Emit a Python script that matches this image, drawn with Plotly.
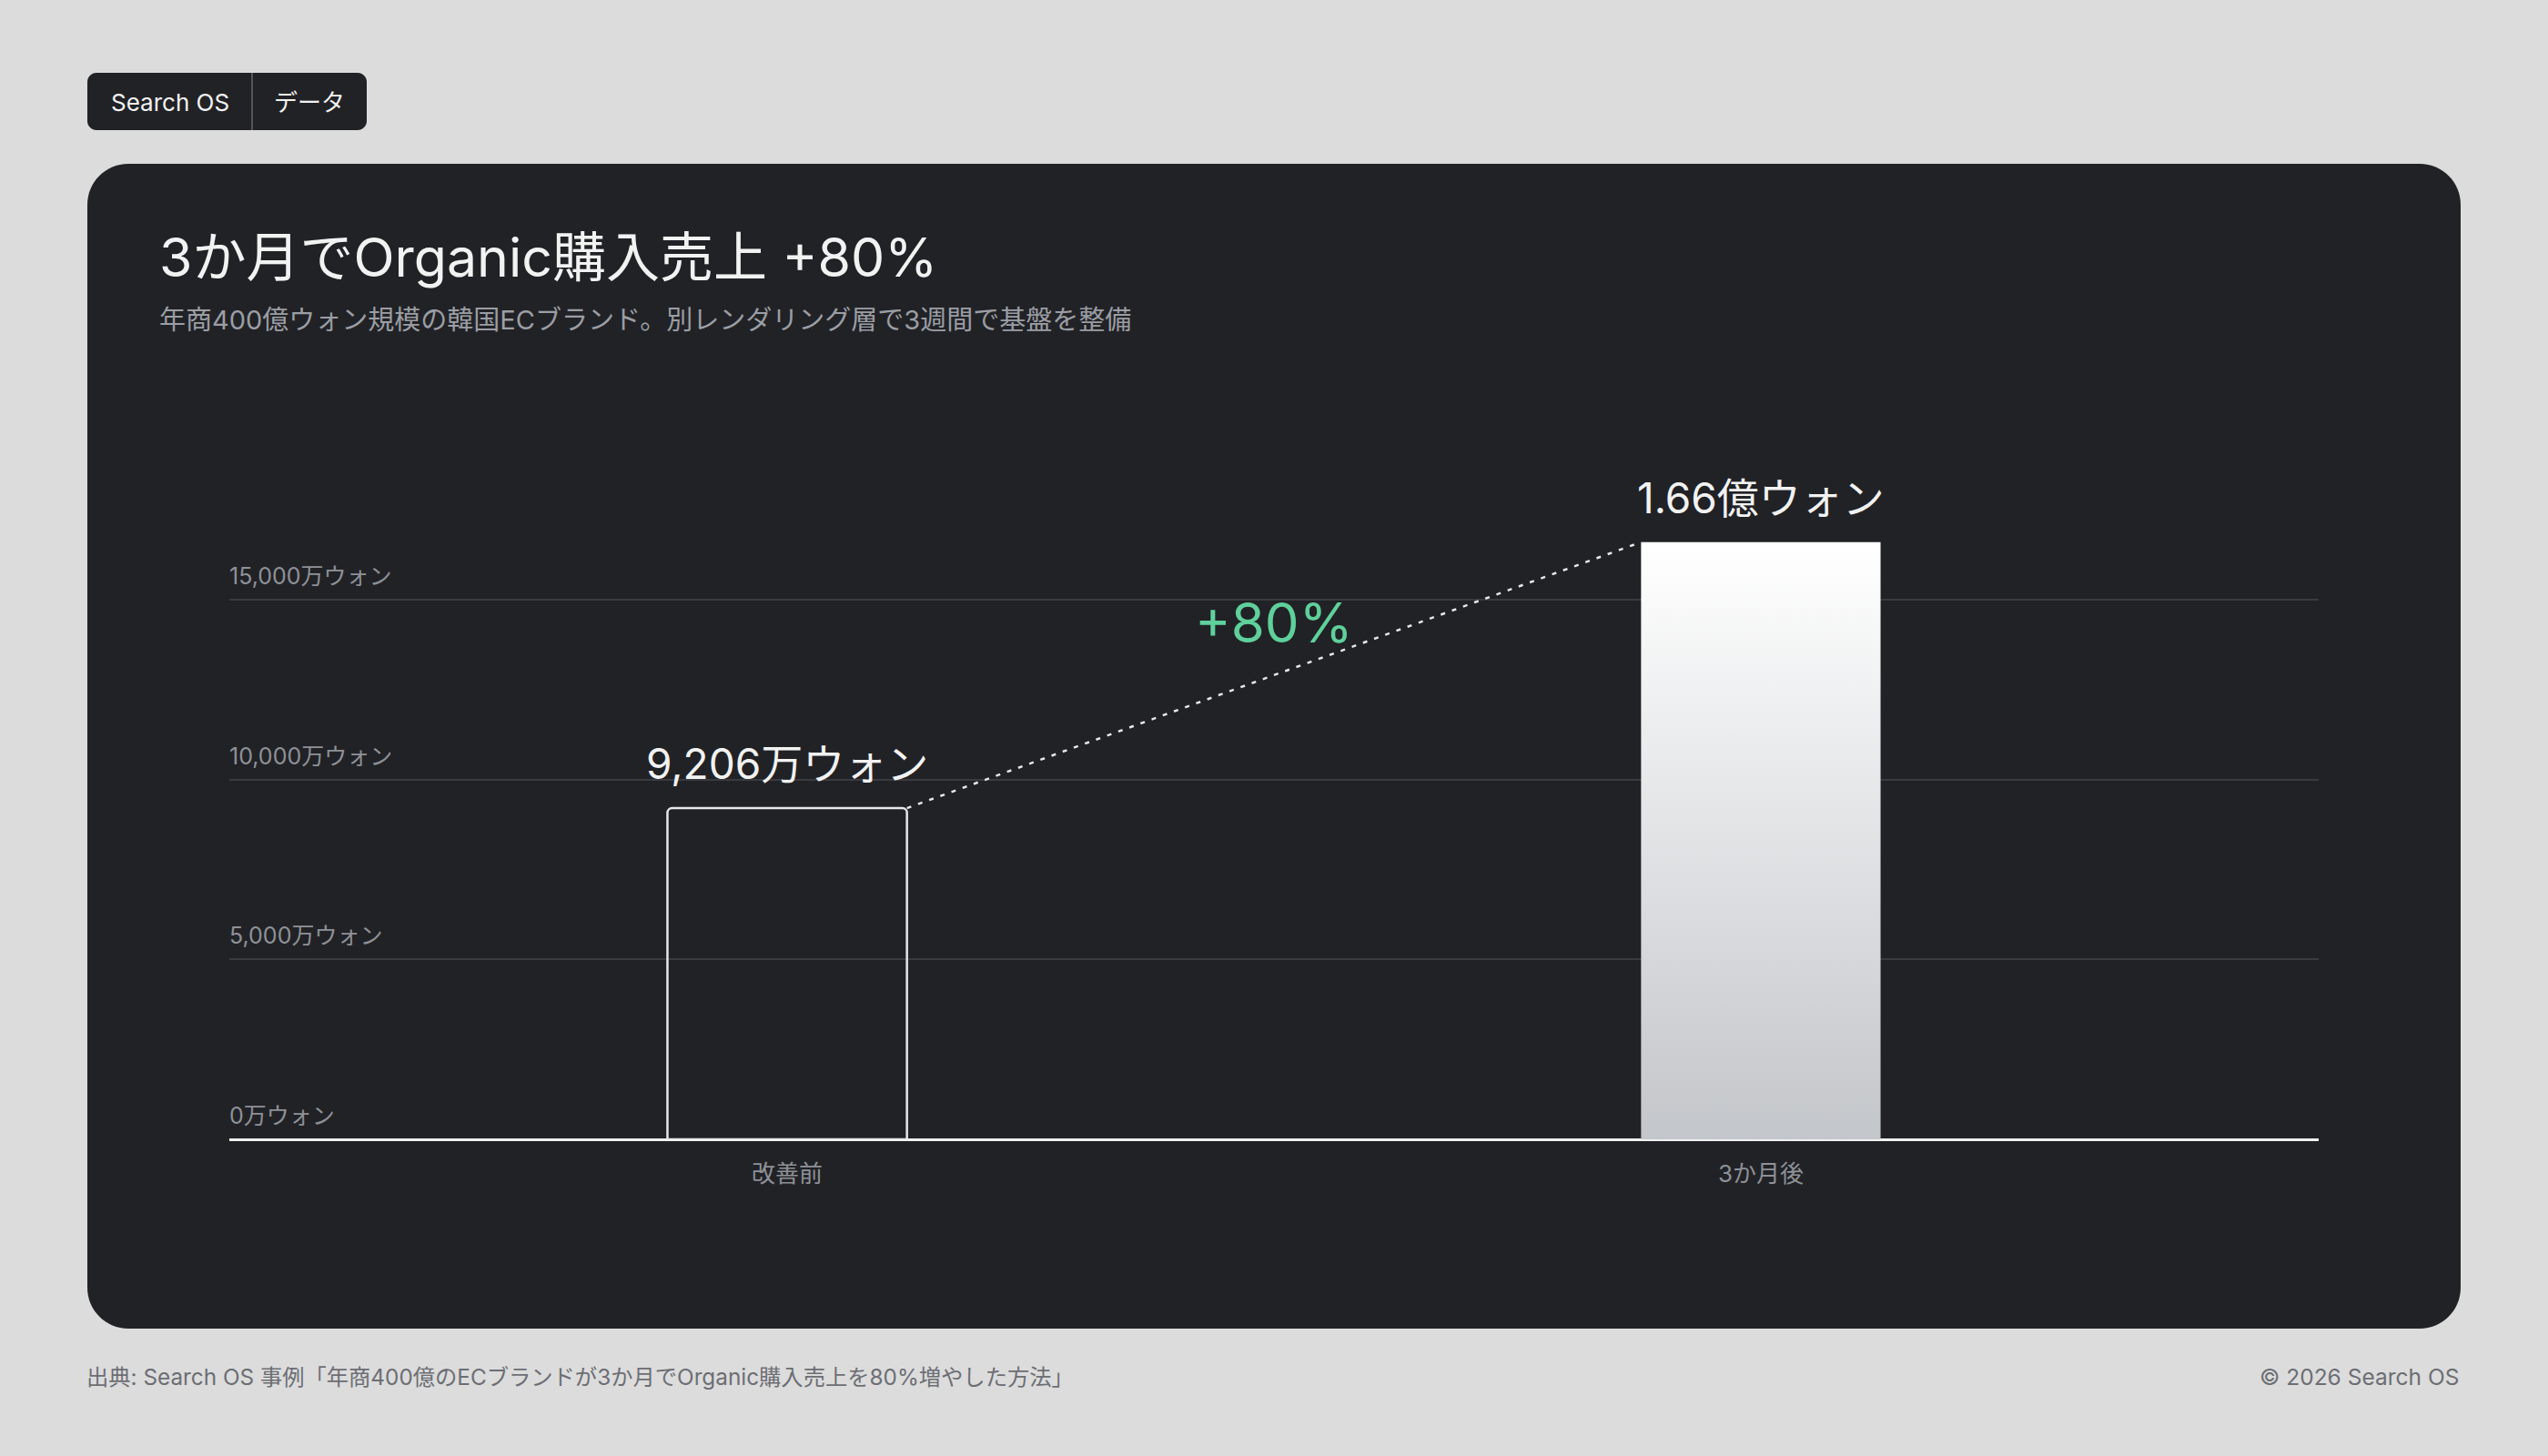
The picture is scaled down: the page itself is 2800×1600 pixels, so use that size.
import plotly.graph_objects as go

# ---------------- data ----------------
categories = ["改善前", "3か月後"]
values_man_won = [9206, 16600]          # 万ウォン
value_labels = ["9,206万ウォン", "1.66億ウォン"]
y_ticks = [0, 5000, 10000, 15000]
title_text = "3か月でOrganic購入売上 +80%"
subtitle_text = "年商400億ウォン規模の韓国ECブランド。別レンダリング層で3週間で基盤を整備"
source_text = "出典: Search OS 事例「年商400億のECブランドが3か月でOrganic購入売上を80%増やした方法」"
copyright_text = "© 2026 Search OS"
badge_labels = ["Search OS", "データ"]

# ---------------- layout constants ----------------
W, H = 2800, 1600
FONT = "Inter, 'Noto Sans CJK JP', 'Noto Sans', sans-serif"
BG = "#dcdcdc"
CARD = "#212226"
GRID = "#3a3b40"
TICK = "#8e9197"
GREEN = "#5fd09b"

def X(px):
    return px / W

def Y(py):
    return 1 - py / H

def rrect(x0, y0, x1, y1, r):
    k = 0.5523 * r
    p = [
        f"M {X(x0 + r)},{Y(y0)}",
        f"L {X(x1 - r)},{Y(y0)}",
        f"C {X(x1 - r + k)},{Y(y0)} {X(x1)},{Y(y0 + r - k)} {X(x1)},{Y(y0 + r)}",
        f"L {X(x1)},{Y(y1 - r)}",
        f"C {X(x1)},{Y(y1 - r + k)} {X(x1 - r + k)},{Y(y1)} {X(x1 - r)},{Y(y1)}",
        f"L {X(x0 + r)},{Y(y1)}",
        f"C {X(x0 + r - k)},{Y(y1)} {X(x0)},{Y(y1 - r + k)} {X(x0)},{Y(y1 - r)}",
        f"L {X(x0)},{Y(y0 + r)}",
        f"C {X(x0)},{Y(y0 + r - k)} {X(x0 + r - k)},{Y(y0)} {X(x0 + r)},{Y(y0)}",
        "Z",
    ]
    return " ".join(p)

# plot area in pixels
PX_L, PX_R = 252, 2548
PY_ZERO, PY_15K = 1252, 659
px_per_unit = (PY_ZERO - PY_15K) / 15000
Y_MAX = 20000
py_top = PY_ZERO - Y_MAX * px_per_unit
X_RANGE = [-0.573, 1.573]
BAR_W = 0.246

fig = go.Figure()

# bar 1: outlined
fig.add_trace(go.Bar(
    x=[0], y=[values_man_won[0]], width=BAR_W,
    marker=dict(color="rgba(0,0,0,0)", line=dict(color="#e6e7e9", width=2.5), cornerradius=5),
    hoverinfo="skip", showlegend=False,
))

# bar 2: gradient filled (polygon from data)
xi = 1
v = values_man_won[1]
fig.add_trace(go.Scatter(
    x=[xi - BAR_W / 2, xi + BAR_W / 2, xi + BAR_W / 2, xi - BAR_W / 2, xi - BAR_W / 2],
    y=[0, 0, v, v, 0],
    mode="lines", fill="toself",
    line=dict(width=0, color="rgba(0,0,0,0)"),
    fillgradient=dict(type="vertical", colorscale=[[0, "#c3c6ca"], [1, "#ffffff"]]),
    hoverinfo="skip", showlegend=False,
))

# dotted connector
fig.add_trace(go.Scatter(
    x=[0 + BAR_W / 2, 1 - BAR_W / 2],
    y=[values_man_won[0], values_man_won[1]],
    mode="lines",
    line=dict(color="#e8e8e8", width=2.5, dash="5px,8px"),
    hoverinfo="skip", showlegend=False,
))

growth = round((values_man_won[1] / values_man_won[0] - 1) * 100)

annotations = []
# value labels
for i, (val, lab) in enumerate(zip(values_man_won, value_labels)):
    annotations.append(dict(
        x=i, y=val, xref="x", yref="y", text=lab, showarrow=False,
        xanchor="center", yanchor="middle", yshift=49,
        font=dict(family=FONT, size=46, color="#f2f2f2"),
    ))
# growth label
annotations.append(dict(
    x=0.5, y=(values_man_won[0] + values_man_won[1]) / 2, xref="x", yref="y",
    text=f"+{growth}%", showarrow=False, xanchor="center", yanchor="middle", yshift=58,
    font=dict(family=FONT, size=60, color=GREEN),
))
# y tick labels above gridlines
for t in y_ticks:
    annotations.append(dict(
        x=X(PX_L), y=t, xref="paper", yref="y", text=f"{t:,}万ウォン", showarrow=False,
        xanchor="left", yanchor="middle", yshift=26, xshift=-2,
        font=dict(family=FONT, size=25, color=TICK),
    ))
# title / subtitle
annotations.append(dict(
    x=X(173), y=Y(282), xref="paper", yref="paper", text=title_text, showarrow=False,
    xanchor="left", yanchor="middle", font=dict(family=FONT, size=59, color="#f2f2f2"),
))
annotations.append(dict(
    x=X(173), y=Y(351), xref="paper", yref="paper", text=subtitle_text, showarrow=False,
    xanchor="left", yanchor="middle", font=dict(family=FONT, size=29, color="#9b9ea4"),
))
# badge labels
annotations.append(dict(
    x=X(187), y=Y(112), xref="paper", yref="paper", text=badge_labels[0], showarrow=False,
    xanchor="center", yanchor="middle", font=dict(family=FONT, size=26, color="#f2f2f2"),
))
annotations.append(dict(
    x=X(340), y=Y(112), xref="paper", yref="paper", text=badge_labels[1], showarrow=False,
    xanchor="center", yanchor="middle", font=dict(family=FONT, size=26, color="#f2f2f2"),
))
# footer
annotations.append(dict(
    x=X(93), y=Y(1513), xref="paper", yref="paper", text=source_text, showarrow=False,
    xanchor="left", yanchor="middle", font=dict(family=FONT, size=24.3, color="#6c6e74"),
))
annotations.append(dict(
    x=X(2704), y=Y(1513), xref="paper", yref="paper", text=copyright_text, showarrow=False,
    xanchor="right", yanchor="middle", font=dict(family=FONT, size=24.5, color="#6c6e74"),
))

shapes = [
    dict(type="path", path=rrect(96, 180, 2704, 1460, 45), xref="paper", yref="paper",
         fillcolor=CARD, line=dict(width=0), layer="below"),
    dict(type="path", path=rrect(96, 80, 403, 143, 10), xref="paper", yref="paper",
         fillcolor=CARD, line=dict(width=0), layer="below"),
    dict(type="line", x0=X(277), x1=X(277), y0=Y(80), y1=Y(143), xref="paper", yref="paper",
         line=dict(color="#55565b", width=2), layer="above"),
]

fig.update_layout(
    width=W, height=H,
    margin=dict(l=0, r=0, t=0, b=0),
    paper_bgcolor=BG, plot_bgcolor="rgba(0,0,0,0)",
    showlegend=False,
    barmode="overlay",
    font=dict(family=FONT),
    xaxis=dict(
        domain=[X(PX_L), X(PX_R)], range=X_RANGE,
        tickvals=list(range(len(categories))), ticktext=categories,
        showgrid=False, zeroline=False, showline=False, ticks="",
        tickfont=dict(family=FONT, size=26, color=TICK),
        ticklabelstandoff=20, fixedrange=True,
    ),
    yaxis=dict(
        domain=[Y(PY_ZERO), Y(py_top)], range=[0, Y_MAX],
        tickvals=y_ticks, showticklabels=False,
        showgrid=True, gridcolor=GRID, gridwidth=1.5,
        zeroline=True, zerolinecolor="#f0f0f0", zerolinewidth=2.5,
        showline=False, ticks="", fixedrange=True,
    ),
    annotations=annotations,
    shapes=shapes,
)

fig.write_html(
    "out.html",
    config={"displayModeBar": False},
    post_script="document.body.style.margin='0';document.body.style.overflow='hidden';",
)
